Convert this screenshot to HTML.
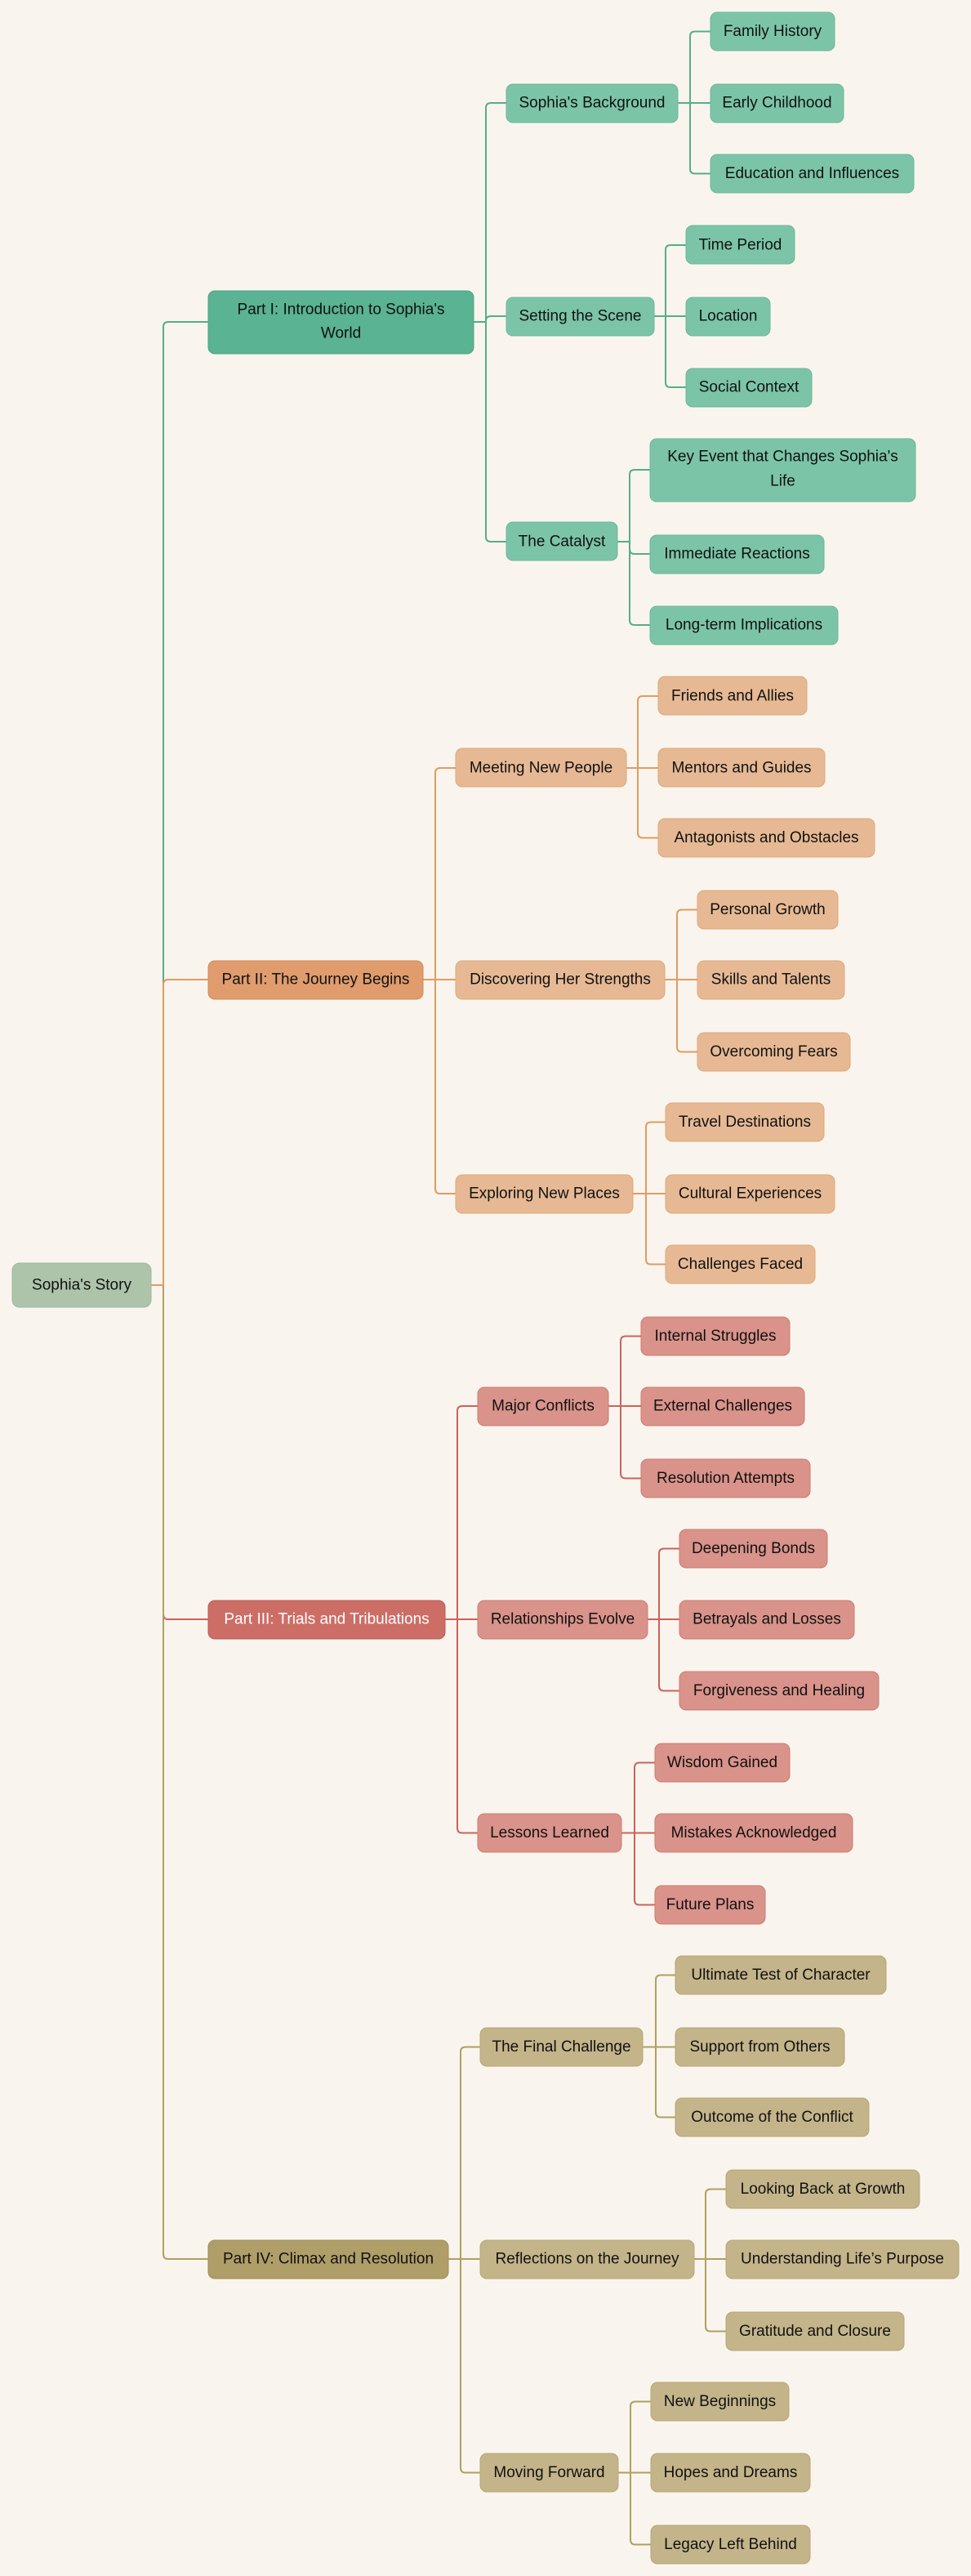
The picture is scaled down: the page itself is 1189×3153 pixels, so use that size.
<!DOCTYPE html>
<html><head><meta charset="utf-8"><style>
html,body{margin:0;padding:0;background:#f9f5ee;}
svg{display:block}
text{font-family:"Liberation Sans",sans-serif;font-size:19px;fill:#111;text-anchor:middle;dominant-baseline:central}
.g1{fill:#5ab393;stroke:#4fa583}.g2{fill:#7cc4a8;stroke:#6cb898}
.o1{fill:#e09c6c;stroke:#d08a5a}.o2{fill:#e6b994;stroke:#e0a878}
.r1{fill:#cc6e66;stroke:#c05a52}.r2{fill:#d9938a;stroke:#cf7a70}
.y1{fill:#b09e68;stroke:#a08e58}.y2{fill:#c4b48a;stroke:#b8a674}
path{fill:none;stroke-width:2}
.eg{stroke:#56ad8a}.eo{stroke:#e09c60}.er{stroke:#cc6259}.ey{stroke:#b0a060}
</style></head><body>
<svg width="1189" height="3153" viewBox="0 0 1189 3153" xmlns="http://www.w3.org/2000/svg">
<path class="eg" d="M185,1573 H200 V400 Q200,394 206,394 H255"/>
<path class="er" d="M185,1573 H200 V1976 Q200,1982 206,1982 H255"/>
<path class="ey" d="M185,1573 H200 V2759 Q200,2765 206,2765 H255"/>
<path class="eo" d="M185,1573 H200 V1205 Q200,1199 206,1199 H255"/>
<path class="eg" d="M580,394 H595 V132 Q595,126 601,126 H620"/>
<path class="eg" d="M580,394 H595 V393 Q595,387 601,387 H620"/>
<path class="eg" d="M580,394 H595 V657 Q595,663 601,663 H620"/>
<path class="eg" d="M830,126 H845 V44.5 Q845,38.5 851,38.5 H870"/>
<path class="eg" d="M830,126 H870"/>
<path class="eg" d="M830,126 H845 V206.5 Q845,212.5 851,212.5 H870"/>
<path class="eg" d="M801,387 H815 V306 Q815,300 821,300 H840"/>
<path class="eg" d="M801,387 H840"/>
<path class="eg" d="M801,387 H815 V468 Q815,474 821,474 H840"/>
<path class="eg" d="M756,663 H771 V581 Q771,575 777,575 H796"/>
<path class="eg" d="M756,663 H771 V672 Q771,678 777,678 H796"/>
<path class="eg" d="M756,663 H771 V759 Q771,765 777,765 H796"/>
<path class="eo" d="M518,1199 H533 V946 Q533,940 539,940 H558"/>
<path class="eo" d="M518,1199 H558"/>
<path class="eo" d="M518,1199 H533 V1455 Q533,1461 539,1461 H558"/>
<path class="eo" d="M767,940 H781 V858 Q781,852 787,852 H806"/>
<path class="eo" d="M767,940 H806"/>
<path class="eo" d="M767,940 H781 V1019.5 Q781,1025.5 787,1025.5 H806"/>
<path class="eo" d="M814,1199 H829 V1119.5 Q829,1113.5 835,1113.5 H854"/>
<path class="eo" d="M814,1199 H854"/>
<path class="eo" d="M814,1199 H829 V1281.5 Q829,1287.5 835,1287.5 H854"/>
<path class="eo" d="M775,1461 H791 V1379.5 Q791,1373.5 797,1373.5 H815"/>
<path class="eo" d="M775,1461 H815"/>
<path class="eo" d="M775,1461 H791 V1541.5 Q791,1547.5 797,1547.5 H815"/>
<path class="er" d="M545,1982 H560 V1727 Q560,1721 566,1721 H585"/>
<path class="er" d="M545,1982 H585"/>
<path class="er" d="M545,1982 H560 V2237.5 Q560,2243.5 566,2243.5 H585"/>
<path class="er" d="M745,1721 H760 V1641.5 Q760,1635.5 766,1635.5 H785"/>
<path class="er" d="M745,1721 H785"/>
<path class="er" d="M745,1721 H760 V1803.5 Q760,1809.5 766,1809.5 H785"/>
<path class="er" d="M793,1982 H807 V1901.5 Q807,1895.5 813,1895.5 H832"/>
<path class="er" d="M793,1982 H832"/>
<path class="er" d="M793,1982 H807 V2063.5 Q807,2069.5 813,2069.5 H832"/>
<path class="er" d="M761,2243.5 H777 V2163.5 Q777,2157.5 783,2157.5 H802"/>
<path class="er" d="M761,2243.5 H802"/>
<path class="er" d="M761,2243.5 H777 V2325.5 Q777,2331.5 783,2331.5 H802"/>
<path class="ey" d="M549,2765 H564 V2511.5 Q564,2505.5 570,2505.5 H588"/>
<path class="ey" d="M549,2765 H588"/>
<path class="ey" d="M549,2765 H564 V3020.5 Q564,3026.5 570,3026.5 H588"/>
<path class="ey" d="M787,2505.5 H803 V2423.5 Q803,2417.5 809,2417.5 H827"/>
<path class="ey" d="M787,2505.5 H827"/>
<path class="ey" d="M787,2505.5 H803 V2585.5 Q803,2591.5 809,2591.5 H827"/>
<path class="ey" d="M850,2765 H864 V2685.5 Q864,2679.5 870,2679.5 H889"/>
<path class="ey" d="M850,2765 H889"/>
<path class="ey" d="M850,2765 H864 V2847.5 Q864,2853.5 870,2853.5 H889"/>
<path class="ey" d="M757,3026.5 H772 V2945.5 Q772,2939.5 778,2939.5 H797"/>
<path class="ey" d="M757,3026.5 H797"/>
<path class="ey" d="M757,3026.5 H772 V3108.5 Q772,3114.5 778,3114.5 H797"/>

<rect x="15" y="1546" width="170" height="54" rx="9" fill="#adc4ab" stroke="#9db89b"/>
<text x="100" y="1573">Sophia's Story</text>

<rect class="g1" x="255" y="356" width="325" height="77" rx="8"/>
<text x="417.5" y="379">Part I: Introduction to Sophia's</text>
<text x="417.5" y="408">World</text>
<rect class="g2" x="620" y="103" width="210" height="47" rx="8"/><text x="725" y="126">Sophia's Background</text>
<rect class="g2" x="870" y="15" width="152" height="47" rx="8"/><text x="946" y="38.5">Family History</text>
<rect class="g2" x="870" y="103" width="163" height="47" rx="8"/><text x="951.5" y="126">Early Childhood</text>
<rect class="g2" x="870" y="189" width="249" height="47" rx="8"/><text x="994.5" y="212.5">Education and Influences</text>
<rect class="g2" x="620" y="364" width="181" height="47" rx="8"/><text x="710.5" y="387">Setting the Scene</text>
<rect class="g2" x="840" y="276" width="133" height="47" rx="8"/><text x="906.5" y="300">Time Period</text>
<rect class="g2" x="840" y="364" width="103" height="47" rx="8"/><text x="891.5" y="387">Location</text>
<rect class="g2" x="840" y="451" width="154" height="47" rx="8"/><text x="917" y="474">Social Context</text>
<rect class="g2" x="620" y="639" width="136" height="47" rx="8"/><text x="688" y="663">The Catalyst</text>
<rect class="g2" x="796" y="537" width="325" height="77" rx="8"/>
<text x="958.5" y="559">Key Event that Changes Sophia's</text>
<text x="958.5" y="589">Life</text>
<rect class="g2" x="796" y="655" width="213" height="47" rx="8"/><text x="902.5" y="678">Immediate Reactions</text>
<rect class="g2" x="796" y="742" width="230" height="47" rx="8"/><text x="911" y="765">Long-term Implications</text>

<rect class="o1" x="255" y="1176" width="263" height="47" rx="8"/><text x="386.5" y="1199">Part II: The Journey Begins</text>
<rect class="o2" x="558" y="916" width="209" height="47" rx="8"/><text x="662.5" y="940">Meeting New People</text>
<rect class="o2" x="806" y="828" width="182" height="47" rx="8"/><text x="897" y="852">Friends and Allies</text>
<rect class="o2" x="806" y="916" width="204" height="47" rx="8"/><text x="908" y="940">Mentors and Guides</text>
<rect class="o2" x="806" y="1002" width="265" height="47" rx="8"/><text x="938.5" y="1025.5">Antagonists and Obstacles</text>
<rect class="o2" x="558" y="1176" width="256" height="47" rx="8"/><text x="686" y="1199">Discovering Her Strengths</text>
<rect class="o2" x="854" y="1090" width="172" height="47" rx="8"/><text x="940" y="1113.5">Personal Growth</text>
<rect class="o2" x="854" y="1176" width="180" height="47" rx="8"/><text x="944" y="1199">Skills and Talents</text>
<rect class="o2" x="854" y="1264" width="187" height="47" rx="8"/><text x="947.5" y="1287.5">Overcoming Fears</text>
<rect class="o2" x="558" y="1438" width="217" height="47" rx="8"/><text x="666.5" y="1461">Exploring New Places</text>
<rect class="o2" x="815" y="1350" width="194" height="47" rx="8"/><text x="912" y="1373.5">Travel Destinations</text>
<rect class="o2" x="815" y="1438" width="207" height="47" rx="8"/><text x="918.5" y="1461">Cultural Experiences</text>
<rect class="o2" x="815" y="1524" width="183" height="47" rx="8"/><text x="906.5" y="1547.5">Challenges Faced</text>

<rect class="r1" x="255" y="1959" width="290" height="47" rx="8"/><text x="400" y="1982" style="fill:#fff">Part III: Trials and Tribulations</text>
<rect class="r2" x="585" y="1698" width="160" height="47" rx="8"/><text x="665" y="1721">Major Conflicts</text>
<rect class="r2" x="785" y="1612" width="182" height="47" rx="8"/><text x="876" y="1635.5">Internal Struggles</text>
<rect class="r2" x="785" y="1698" width="200" height="47" rx="8"/><text x="885" y="1721">External Challenges</text>
<rect class="r2" x="785" y="1786" width="207" height="47" rx="8"/><text x="888.5" y="1809.5">Resolution Attempts</text>
<rect class="r2" x="585" y="1959" width="208" height="47" rx="8"/><text x="689" y="1982">Relationships Evolve</text>
<rect class="r2" x="832" y="1872" width="181" height="47" rx="8"/><text x="922.5" y="1895.5">Deepening Bonds</text>
<rect class="r2" x="832" y="1959" width="214" height="47" rx="8"/><text x="939" y="1982">Betrayals and Losses</text>
<rect class="r2" x="832" y="2046" width="244" height="47" rx="8"/><text x="954" y="2069.5">Forgiveness and Healing</text>
<rect class="r2" x="585" y="2220" width="176" height="47" rx="8"/><text x="673" y="2243.5">Lessons Learned</text>
<rect class="r2" x="802" y="2134" width="165" height="47" rx="8"/><text x="884.5" y="2157.5">Wisdom Gained</text>
<rect class="r2" x="802" y="2220" width="242" height="47" rx="8"/><text x="923" y="2243.5">Mistakes Acknowledged</text>
<rect class="r2" x="802" y="2308" width="135" height="47" rx="8"/><text x="869.5" y="2331.5">Future Plans</text>

<rect class="y1" x="255" y="2742" width="294" height="47" rx="8"/><text x="402" y="2765">Part IV: Climax and Resolution</text>
<rect class="y2" x="588" y="2482" width="199" height="47" rx="8"/><text x="687.5" y="2505.5">The Final Challenge</text>
<rect class="y2" x="827" y="2394" width="258" height="47" rx="8"/><text x="956" y="2417.5">Ultimate Test of Character</text>
<rect class="y2" x="827" y="2482" width="207" height="47" rx="8"/><text x="930.5" y="2505.5">Support from Others</text>
<rect class="y2" x="827" y="2568" width="237" height="47" rx="8"/><text x="945.5" y="2591.5">Outcome of the Conflict</text>
<rect class="y2" x="588" y="2742" width="262" height="47" rx="8"/><text x="719" y="2765">Reflections on the Journey</text>
<rect class="y2" x="889" y="2656" width="237" height="47" rx="8"/><text x="1007.5" y="2679.5">Looking Back at Growth</text>
<rect class="y2" x="889" y="2742" width="285" height="47" rx="8"/><text x="1031.5" y="2765">Understanding Life’s Purpose</text>
<rect class="y2" x="889" y="2830" width="218" height="47" rx="8"/><text x="998" y="2853.5">Gratitude and Closure</text>
<rect class="y2" x="588" y="3003" width="169" height="47" rx="8"/><text x="672.5" y="3026.5">Moving Forward</text>
<rect class="y2" x="797" y="2916" width="169" height="47" rx="8"/><text x="881.5" y="2939.5">New Beginnings</text>
<rect class="y2" x="797" y="3003" width="195" height="47" rx="8"/><text x="894.5" y="3026.5">Hopes and Dreams</text>
<rect class="y2" x="797" y="3091" width="195" height="47" rx="8"/><text x="894.5" y="3114.5">Legacy Left Behind</text>
</svg>
</body></html>
